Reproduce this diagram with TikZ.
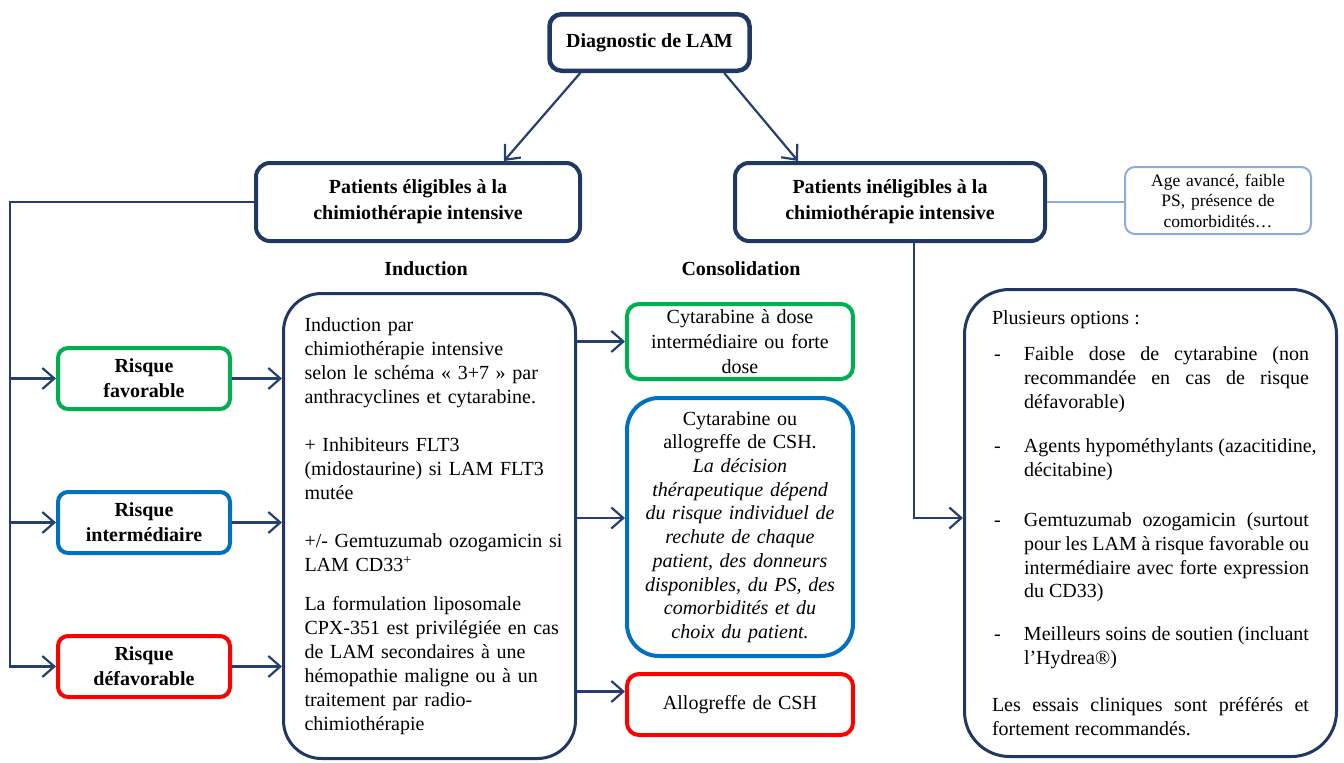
\documentclass[tikz,border=0pt]{standalone}
\usepackage{fontspec}
\setmainfont{Liberation Serif}
\usetikzlibrary{arrows.meta,calc}
\definecolor{navy}{HTML}{203864}
\definecolor{connc}{HTML}{263F6E}
\definecolor{okgreen}{HTML}{00B050}
\definecolor{midblue}{HTML}{0070C0}
\definecolor{badred}{HTML}{FF0000}
\definecolor{lightb}{HTML}{8FAADC}
\newcommand{\bodyfont}{\fontsize{20}{23.7}\selectfont}
\newcommand{\optitem}[1]{\noindent\hangindent=32pt\hangafter=1\makebox[32pt][l]{\hspace{2pt}-}#1}
\tikzset{
  titlebox/.style={draw=navy, line width=4pt, rounded corners=14pt, fill=white,
    inner sep=0pt, align=center, font=\bfseries\fontsize{20}{26}\selectfont},
  riskbox/.style={draw=#1, line width=4pt, rounded corners=10pt, fill=white,
    minimum width=172pt, minimum height=61pt, inner sep=0pt, text width=168pt,
    align=center, font=\bfseries\fontsize{20}{25}\selectfont},
  consbox/.style={draw=#1, line width=4pt, fill=white, minimum width=226pt,
    inner sep=0pt, text width=222pt, align=center, font=\bodyfont},
  bigbox/.style={draw=navy, line width=3pt, fill=white, inner sep=0pt, font=\bodyfont},
  headlbl/.style={font=\bfseries\fontsize{20}{24}\selectfont, inner sep=0pt},
  agebox/.style={draw=lightb, line width=2pt, rounded corners=10pt, fill=white,
    inner sep=0pt, text width=180pt, align=center, font=\fontsize{17.5}{20.5}\selectfont},
  arr/.style={draw=connc, line width=2.2pt, -{Straight Barb[length=12pt,width=21pt]}},
  agelink/.style={draw=lightb, line width=1.5pt},
}
\begin{document}
\begin{tikzpicture}[x=1pt,y=-1pt]
\useasboundingbox (0,0) rectangle (1344,763);
\fill[white] (0,0) rectangle (1344,763);

% title boxes
\node[titlebox, rounded corners=12pt, line width=4.5pt, minimum width=200pt, minimum height=56.5pt] (diag) at (649.5,42.5) {Diagnostic de LAM};
\node[titlebox, minimum width=324pt, minimum height=78pt] (elig) at (418,202) {Patients éligibles à la\\chimiothérapie intensive};
\node[titlebox, minimum width=310pt, minimum height=78pt] (inelig) at (890,202) {Patients inéligibles à la\\chimiothérapie intensive};
\node[agebox, minimum width=186pt, minimum height=67pt] (age) at (1218,200.5) {Age avancé, faible\\PS, présence de\\comorbidités…};

% column labels
\node[headlbl] (lblind) at (426,269) {Induction};
\node[headlbl] (lblcons) at (741,269) {Consolidation};

% risk boxes
\node[riskbox=okgreen] (fav) at (144,378.5) {Risque\\favorable};
\node[riskbox=midblue] (inter) at (144,522.5) {Risque\\intermédiaire};
\node[riskbox=badred] (defav) at (144,666.5) {Risque\\défavorable};

% induction box
\node[bigbox, rounded corners=38pt, minimum width=292pt, minimum height=465pt, text width=250pt, align=left, font=\fontsize{20}{24.1}\selectfont] (ind) at (429.5,526) {%
\mbox{Induction par}\\
\mbox{chimiothérapie intensive}\\
\mbox{selon le schéma «~3+7~» par}\\
\mbox{anthracyclines et cytarabine.}\\[24pt]
\mbox{+ Inhibiteurs FLT3}\\
\mbox{(midostaurine) si LAM FLT3}\\
\mbox{mutée}\\[24pt]
\mbox{+/- Gemtuzumab ozogamicin si}\\
\mbox{LAM CD33\textsuperscript{+}}\\[14pt]
\mbox{La formulation liposomale}\\
\mbox{CPX-351 est privilégiée en cas}\\
\mbox{de LAM secondaires à une}\\
\mbox{hémopathie maligne ou à un}\\
\mbox{traitement par radio-}\\
\mbox{chimiothérapie}};

% consolidation boxes
\node[consbox=okgreen, rounded corners=12pt, minimum height=75pt, font=\fontsize{20}{25}\selectfont] (c1) at (740,341.5) {Cytarabine à dose\\intermédiaire ou forte\\dose};
\node[consbox=midblue, rounded corners=32pt, minimum height=258pt] (c2) at (740,527) {Cytarabine ou\\allogreffe de CSH.\\\itshape La décision\\thérapeutique dépend\\du risque individuel de\\rechute de chaque\\patient, des donneurs\\disponibles, du PS, des\\comorbidités et du\\choix du patient.};
\node[consbox=badred, rounded corners=12pt, minimum height=61pt] (c3) at (740,704.5) {Allogreffe de CSH};

% options box
\node[bigbox, rounded corners=45pt, minimum width=372pt, minimum height=467pt, text width=317pt, align=justify] (opts) at (1150.5,523) {%
\hyphenpenalty=10000\exhyphenpenalty=10000
\noindent Plusieurs options :\par\vspace{12.7pt}
\optitem{Faible dose de cytarabine (non\linebreak recommandée en cas de risque\linebreak défavorable)}\par\vspace{20.7pt}
\optitem{\mbox{Agents hypométhylants (azacitidine,}\linebreak décitabine)}\par\vspace{26.7pt}
\optitem{Gemtuzumab ozogamicin (surtout\linebreak pour les LAM à risque favorable ou\linebreak intermédiaire avec forte expression\linebreak du CD33)}\par\vspace{18.7pt}
\optitem{Meilleurs soins de soutien (incluant\linebreak l’Hydrea®)}\par\vspace{23.7pt}
\noindent Les essais cliniques sont préférés et\linebreak fortement recommandés.};

% connectors
\coordinate (trunk) at (10,0);
\draw[arr] ([xshift=33pt]diag.south west) -- ([xshift=250pt]elig.north west);
\draw[arr] ([xshift=-27.5pt]diag.south east) -- ([xshift=65pt]inelig.north west);
\draw[agelink] (inelig.east) -- (inelig.east -| age.west);
\draw[arr] (elig.west) -| (defav.west -| trunk) -- (defav.west);
\draw[arr] (fav.west -| trunk) -- (fav.west);
\draw[arr] (inter.west -| trunk) -- (inter.west);
\draw[arr] (fav.east) -- (fav.east -| ind.west);
\draw[arr] (inter.east) -- (inter.east -| ind.west);
\draw[arr] (defav.east) -- (defav.east -| ind.west);
\draw[arr] (c1.west -| ind.east) -- (c1.west);
\draw[arr] ([yshift=9pt]c2.west -| ind.east) -- ([yshift=9pt]c2.west);
\draw[arr] ([yshift=13pt]c3.west -| ind.east) -- ([yshift=13pt]c3.west);
\draw[arr] ([xshift=181pt]inelig.south west) |- ([yshift=5pt]opts.west);
\end{tikzpicture}
\end{document}
